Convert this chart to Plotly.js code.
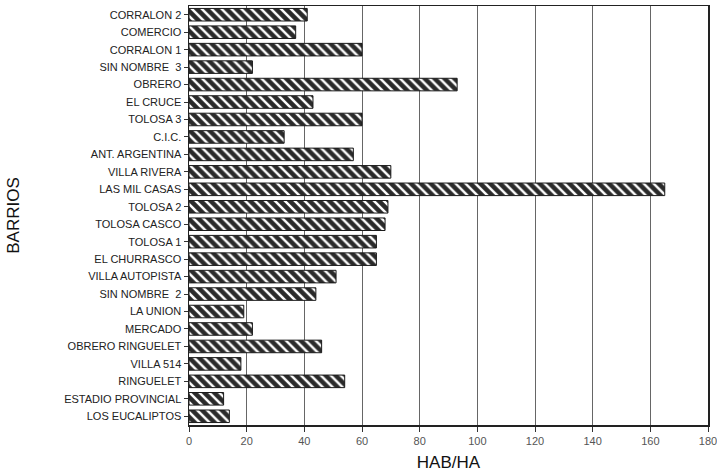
<!DOCTYPE html>
<html>
<head>
<meta charset="utf-8">
<script src="https://cdn.plot.ly/plotly-3.0.1.min.js"></script>
<style>html,body{margin:0;padding:0;background:#fff;}#chart{width:717px;height:476px;}</style>
</head>
<body>
<div id="chart"></div>
<script>
const barrios = ["CORRALON 2","COMERCIO","CORRALON 1","SIN NOMBRE  3","OBRERO","EL CRUCE","TOLOSA 3","C.I.C.","ANT. ARGENTINA","VILLA RIVERA","LAS MIL CASAS","TOLOSA 2","TOLOSA CASCO","TOLOSA 1","EL CHURRASCO","VILLA AUTOPISTA","SIN NOMBRE  2","LA UNION","MERCADO","OBRERO RINGUELET","VILLA 514","RINGUELET","ESTADIO PROVINCIAL","LOS EUCALIPTOS"];
const habHa = [41,37,60,22,93,43,60,33,57,70,165,69,68,65,65,51,44,19,22,46,18,54,12,14];
const xTicks = [0,20,40,60,80,100,120,140,160,180];

const trace = {
  type: 'bar',
  orientation: 'h',
  y: barrios,
  x: habHa,
  width: 0.72,
  marker: {
    color: '#2a2a2a',
    line: {color: '#1a1a1a', width: 1},
    pattern: {shape: '\\', fgcolor: '#ffffff', bgcolor: '#2a2a2a', size: 7, solidity: 0.35}
  },
  hoverinfo: 'none'
};

const layout = {
  width: 717, height: 476,
  margin: {l: 189, r: 9, t: 6, b: 51},
  paper_bgcolor: '#ffffff',
  plot_bgcolor: '#ffffff',
  showlegend: false,
  font: {family: 'Liberation Sans, Arial, sans-serif', color: '#222'},
  xaxis: {
    range: [0, 180],
    tickvals: xTicks,
    ticktext: xTicks.map(String),
    ticklabeloverflow: 'allow',
    showgrid: true, gridcolor: '#666', gridwidth: 1,
    zeroline: false,
    showline: true, linecolor: '#222', linewidth: 1.5, mirror: true,
    ticks: 'outside', ticklen: 5, tickcolor: '#333',
    tickfont: {size: 11, color: '#555'},
    title: {text: 'HAB/HA', font: {size: 17, color: '#111'}, standoff: 10}
  },
  yaxis: {
    type: 'category',
    autorange: 'reversed',
    showgrid: false,
    showline: true, linecolor: '#222', linewidth: 1.5, mirror: true,
    ticks: 'outside', ticklen: 4, tickcolor: '#333',
    tickfont: {size: 11, color: '#222'},
    title: {text: 'BARRIOS', font: {size: 17, color: '#111'}, standoff: 40}
  }
};

Plotly.newPlot('chart', [trace], layout, {displayModeBar: false, staticPlot: true});
</script>
</body>
</html>
